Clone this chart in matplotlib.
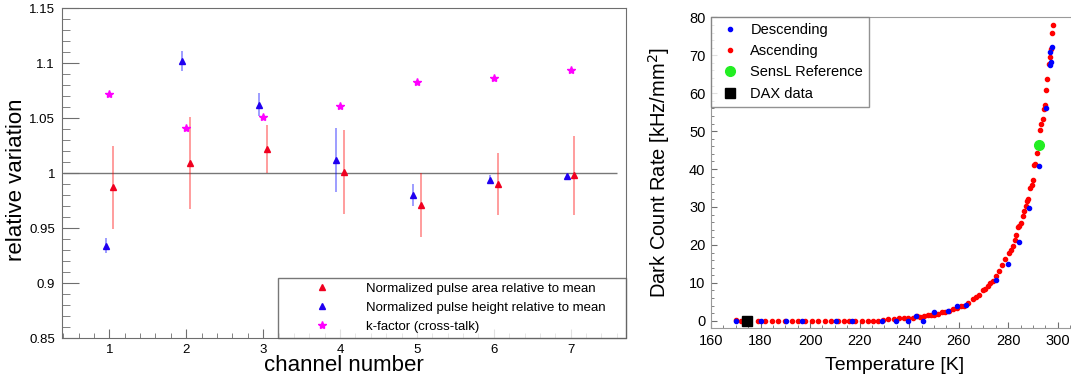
import matplotlib
matplotlib.use("Agg")
import matplotlib.pyplot as plt
from matplotlib.ticker import MultipleLocator, FuncFormatter
import numpy as np

plt.rcParams['font.family'] = ['Liberation Sans', 'DejaVu Sans']

# ---- left panel data: relative variation per channel ----
channels = [1, 2, 3, 4, 5, 6, 7]
area_rel = [0.987, 1.009, 1.022, 1.001, 0.971, 0.990, 0.998]
area_err = [0.038, 0.042, 0.022, 0.038, 0.029, 0.028, 0.036]
height_rel = [0.934, 1.102, 1.062, 1.012, 0.980, 0.994, 0.997]
height_err = [0.007, 0.009, 0.0105, 0.029, 0.010, 0.004, 0.002]
kfactor = [1.072, 1.041, 1.051, 1.061, 1.083, 1.086, 1.094]

# ---- right panel data: dark count rate vs temperature ----
asc_T = [170.1, 172.1, 179.1, 181.8, 184.6, 187.2, 189.9, 192.6, 195.3, 198.0,
         200.7, 203.3, 206.0, 208.5, 211.2, 213.5, 215.9, 218.3, 220.8, 223.3,
         225.6, 227.3, 229.3, 231.6, 233.8, 236.1, 237.8, 239.7, 241.4, 243.2,
         244.5, 246.2, 247.5, 248.9, 250.2, 251.6, 253.2, 254.6, 256.3, 257.9,
         259.5, 261.0, 262.3, 263.9, 265.7, 267.0, 268.4, 269.7, 270.8, 271.7,
         272.8, 273.8, 275.1, 276.4, 277.7, 278.9, 280.2, 281.2, 281.8, 282.7,
         283.3, 283.9, 284.5, 285.2, 285.9, 286.5, 287.2, 287.6, 288.2, 288.9,
         289.5, 289.9, 290.5, 291.0, 291.5, 293.0, 293.4, 294.0, 294.4, 294.9,
         295.3, 295.7, 296.4, 296.9, 297.2, 297.6, 298.0]
asc_dcr = [0.1, 0.05, 0.0, 0.0, 0.0, 0.0, 0.0, 0.0, 0.0, 0.0,
           0.0, 0.0, 0.0, 0.0, 0.0, 0.0, 0.0, 0.0, 0.0, 0.0,
           0.0, 0.05, 0.1, 0.4, 0.5, 0.7, 0.7, 0.8, 0.8, 1.3,
           1.1, 1.2, 1.4, 1.5, 1.6, 1.9, 2.2, 2.4, 2.7, 3.0,
           3.4, 3.8, 4.0, 4.6, 5.8, 6.2, 6.8, 8.0, 8.3, 9.2,
           9.9, 10.5, 11.7, 13.2, 14.8, 16.3, 17.8, 18.7, 19.6, 21.2,
           22.5, 24.7, 25.1, 25.7, 27.7, 28.9, 30.3, 31.6, 32.2, 34.9,
           35.7, 37.1, 41.0, 41.4, 44.2, 50.2, 51.9, 53.2, 55.8, 57.0,
           60.9, 63.8, 67.7, 69.6, 71.7, 75.9, 78.0]
desc_T = [170.1, 180.2, 190.3, 196.6, 210.5, 216.8, 228.9, 234.7, 239.4, 242.9,
          245.6, 250.2, 255.8, 259.3, 262.8, 275.1, 279.8, 284.2, 288.6, 292.3,
          295.3, 297.0, 297.1, 297.0, 297.7]
desc_dcr = [0.0, 0.0, 0.0, 0.0, 0.0, 0.0, 0.0, 0.0, 0.0, 1.3,
            0.0, 2.3, 2.7, 3.9, 4.2, 10.7, 15.1, 20.8, 29.8, 40.7,
            56.0, 67.5, 68.3, 70.9, 72.3]
sensl_T = [292.6]
sensl_dcr = [46.3]
dax_T = [174.6]
dax_dcr = [0.0]

frame_col = '#6e6e6e'

fig = plt.figure(figsize=(10.71, 3.78), dpi=100)

#*****************************************************************************************
# Left panel
#*****************************************************************************************
ax1 = fig.add_axes([0.0579, 0.1058, 0.5266, 0.873])
ch = np.array(channels, dtype=float)
ax1.hlines(1.0, 0.4, 7.6, color='#777777', lw=1.0, zorder=1)

ax1.errorbar(ch + 0.05, area_rel, yerr=area_err, fmt='none', ecolor='red', alpha=0.45, elinewidth=1.2)
ax1.errorbar(ch - 0.05, height_rel, yerr=height_err, fmt='none', ecolor='blue', alpha=0.45, elinewidth=1.2)
ax1.plot(ch + 0.05, area_rel, ls='none', marker='^', ms=5, color='#f00020', mec='#f00020',
         label='Normalized pulse area relative to mean')
ax1.plot(ch - 0.05, height_rel, ls='none', marker='^', ms=5, color='#2000f0', mec='#2000f0',
         label='Normalized pulse height relative to mean')
ax1.plot(ch, kfactor, ls='none', marker='*', ms=6, color='magenta', mec='magenta',
         label='k-factor (cross-talk)')

ax1.set_xlim(0.384, 7.72)
ax1.set_ylim(0.85, 1.15)
ax1.xaxis.set_major_locator(MultipleLocator(1))
ax1.xaxis.set_minor_locator(MultipleLocator(0.2))
ax1.yaxis.set_major_locator(MultipleLocator(0.05))
ax1.yaxis.set_minor_locator(MultipleLocator(0.01))
ax1.yaxis.set_major_formatter(FuncFormatter(lambda v, p: '%g' % round(v, 2)))
ax1.tick_params(axis='both', which='both', direction='in', colors=frame_col, labelcolor='black',
                labelsize=9.5, top=False, right=False)
ax1.tick_params(axis='y', which='major', length=12, pad=5)
ax1.tick_params(axis='y', which='minor', length=6)
ax1.tick_params(axis='x', which='major', length=6.5, pad=4.5)
ax1.tick_params(axis='x', which='minor', length=3.4)
for s in ax1.spines.values():
    s.set_color(frame_col)
ax1.set_xlabel('channel number', fontsize=16)
ax1.set_ylabel('relative variation', fontsize=16)
ax1.xaxis.set_label_coords(0.5, -0.052)
ax1.yaxis.set_label_coords(-0.062, 0.48)

leg1 = ax1.legend(loc='lower left', bbox_to_anchor=(0.383, 0.0, 0.617, 0.19), mode='expand',
                  borderaxespad=0, fontsize=9.5, frameon=True, fancybox=False, edgecolor='#555555',
                  handlelength=5.9, handletextpad=0.4, borderpad=0.4, labelspacing=0.5, numpoints=1)
leg1.get_frame().set_linewidth(1.0)

#*****************************************************************************************
# Right panel
#*****************************************************************************************
ax2 = fig.add_axes([0.6639, 0.1323, 0.3371, 0.8228])
ax2.plot(desc_T, desc_dcr, ls='none', marker='o', ms=3, color='blue', mec='blue', label='Descending', zorder=3)
ax2.plot(asc_T, asc_dcr, ls='none', marker='o', ms=3, color='red', mec='red', label='Ascending', zorder=2)
ax2.plot(sensl_T, sensl_dcr, ls='none', marker='o', ms=7, color='#22ee22', mec='#22ee22',
         label='SensL Reference', zorder=4)
ax2.plot(dax_T, dax_dcr, ls='none', marker='s', ms=7, color='black', label='DAX data', zorder=4)

ax2.set_xlim(160, 305.8)
ax2.set_ylim(-1.9, 80.1)
ax2.xaxis.set_major_locator(MultipleLocator(20))
ax2.xaxis.set_minor_locator(MultipleLocator(5))
ax2.yaxis.set_major_locator(MultipleLocator(10))
ax2.yaxis.set_minor_locator(MultipleLocator(2))
ax2.tick_params(axis='both', which='both', direction='in', colors=frame_col, labelcolor='black',
                labelsize=10.5, top=False, right=False)
ax2.tick_params(axis='both', which='major', length=4.5, pad=4)
ax2.tick_params(axis='both', which='minor', length=2.2)
for s in ax2.spines.values():
    s.set_color('#9a9a9a')
ax2.set_xlabel('Temperature [K]', fontsize=14)
ax2.set_ylabel('Dark Count Rate [kHz/mm$^2$]', fontsize=14.5)
ax2.xaxis.set_label_coords(0.507, -0.093)
ax2.yaxis.set_label_coords(-0.108, 0.5)

leg2 = ax2.legend(loc='upper left', bbox_to_anchor=(0.0, 1.0), borderaxespad=0, fontsize=10.5,
                  frameon=True, fancybox=False, edgecolor='#777777', handlelength=1.8,
                  handletextpad=0.5, borderpad=0.4, labelspacing=0.5, numpoints=1)
leg2.get_frame().set_linewidth(1.0)

fig.savefig('out.png', dpi=100)
